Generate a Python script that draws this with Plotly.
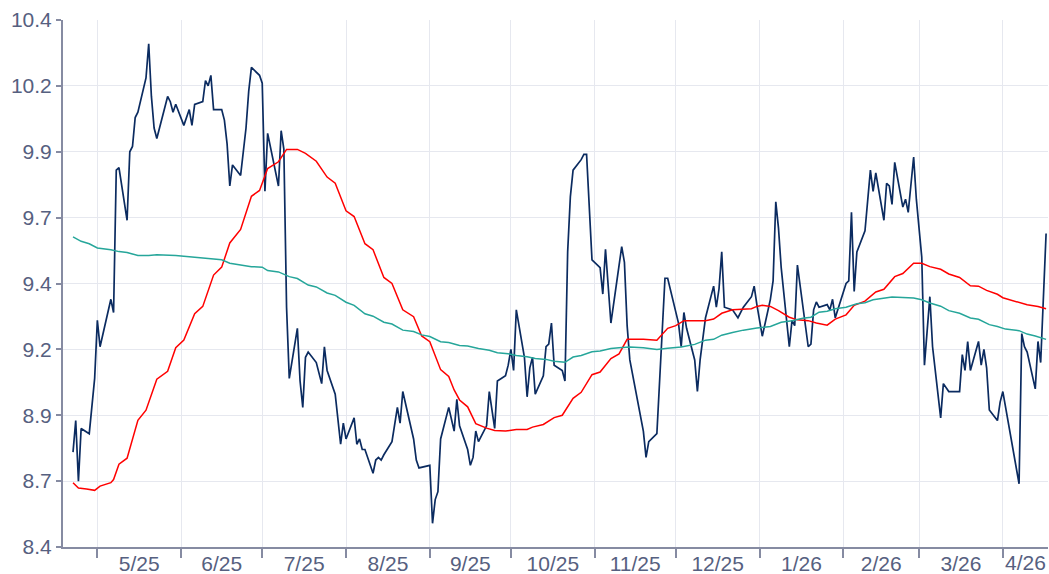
import pandas as pd
import plotly.graph_objects as go

# ---- data ----
price_dates = [
    "2025-04-22", "2025-04-23", "2025-04-24", "2025-04-25", "2025-04-28", "2025-04-29", "2025-04-30",
    "2025-05-01", "2025-05-02", "2025-05-06", "2025-05-07", "2025-05-08", "2025-05-09", "2025-05-12",
    "2025-05-13", "2025-05-14", "2025-05-15", "2025-05-16", "2025-05-19", "2025-05-20", "2025-05-21",
    "2025-05-22", "2025-05-23", "2025-05-27", "2025-05-28", "2025-05-29", "2025-05-30", "2025-06-02",
    "2025-06-03", "2025-06-04", "2025-06-05", "2025-06-06", "2025-06-09", "2025-06-10", "2025-06-11",
    "2025-06-12", "2025-06-13", "2025-06-16", "2025-06-17", "2025-06-18", "2025-06-19", "2025-06-20",
    "2025-06-23", "2025-06-25", "2025-06-26", "2025-06-27", "2025-06-30", "2025-07-01", "2025-07-02",
    "2025-07-03", "2025-07-07", "2025-07-08", "2025-07-09", "2025-07-10", "2025-07-11", "2025-07-14",
    "2025-07-15", "2025-07-16", "2025-07-17", "2025-07-18", "2025-07-21", "2025-07-23", "2025-07-24",
    "2025-07-25", "2025-07-28", "2025-07-30", "2025-07-31", "2025-08-01", "2025-08-04", "2025-08-05",
    "2025-08-06", "2025-08-07", "2025-08-08", "2025-08-11", "2025-08-12", "2025-08-13", "2025-08-14",
    "2025-08-15", "2025-08-18", "2025-08-20", "2025-08-21", "2025-08-22", "2025-08-26", "2025-08-27",
    "2025-08-28", "2025-09-01", "2025-09-02", "2025-09-03", "2025-09-04", "2025-09-05", "2025-09-08",
    "2025-09-10", "2025-09-11", "2025-09-12", "2025-09-15", "2025-09-16", "2025-09-17", "2025-09-18",
    "2025-09-19", "2025-09-22", "2025-09-23", "2025-09-25", "2025-09-26", "2025-09-29", "2025-09-30",
    "2025-10-01", "2025-10-02", "2025-10-03", "2025-10-06", "2025-10-07", "2025-10-08", "2025-10-09",
    "2025-10-10", "2025-10-13", "2025-10-14", "2025-10-15", "2025-10-16", "2025-10-17", "2025-10-20",
    "2025-10-21", "2025-10-22", "2025-10-23", "2025-10-24", "2025-10-27", "2025-10-28", "2025-10-29",
    "2025-10-31", "2025-11-03", "2025-11-04", "2025-11-05", "2025-11-07", "2025-11-10", "2025-11-11",
    "2025-11-12", "2025-11-13", "2025-11-14", "2025-11-19", "2025-11-20", "2025-11-21", "2025-11-24",
    "2025-11-27", "2025-11-28", "2025-12-01", "2025-12-02", "2025-12-03", "2025-12-04", "2025-12-05",
    "2025-12-08", "2025-12-09", "2025-12-10", "2025-12-12", "2025-12-15", "2025-12-16", "2025-12-17",
    "2025-12-18", "2025-12-19", "2025-12-22", "2025-12-24", "2025-12-26", "2025-12-29", "2025-12-30",
    "2025-12-31", "2026-01-02", "2026-01-05", "2026-01-06", "2026-01-07", "2026-01-08", "2026-01-09",
    "2026-01-12", "2026-01-13", "2026-01-14", "2026-01-15", "2026-01-19", "2026-01-20", "2026-01-21",
    "2026-01-22", "2026-01-23", "2026-01-26", "2026-01-27", "2026-01-28", "2026-01-29", "2026-02-02",
    "2026-02-03", "2026-02-04", "2026-02-05", "2026-02-06", "2026-02-09", "2026-02-10", "2026-02-11",
    "2026-02-12", "2026-02-13", "2026-02-16", "2026-02-17", "2026-02-18", "2026-02-19", "2026-02-20",
    "2026-02-23", "2026-02-24", "2026-02-25", "2026-02-27", "2026-02-28", "2026-03-02", "2026-03-03",
    "2026-03-05", "2026-03-06", "2026-03-09", "2026-03-10", "2026-03-12", "2026-03-16", "2026-03-17",
    "2026-03-18", "2026-03-19", "2026-03-20", "2026-03-23", "2026-03-24", "2026-03-25", "2026-03-26",
    "2026-03-27", "2026-03-30", "2026-03-31", "2026-04-01", "2026-04-07", "2026-04-08", "2026-04-09",
    "2026-04-10", "2026-04-13", "2026-04-14", "2026-04-15", "2026-04-17",
]
price_values = [
    8.76, 8.88, 8.65, 8.85, 8.83, 8.95, 9.04,
    9.26, 9.16, 9.34, 9.29, 9.83, 9.84, 9.64,
    9.90, 9.92, 10.03, 10.05, 10.18, 10.31, 10.11,
    9.99, 9.95, 10.11, 10.09, 10.05, 10.08, 10.00,
    10.03, 10.06, 10.00, 10.08, 10.09, 10.17, 10.15,
    10.19, 10.06, 10.06, 10.02, 9.93, 9.77, 9.85,
    9.81, 9.99, 10.13, 10.22, 10.19, 10.16, 9.75,
    9.97, 9.77, 9.98, 9.91, 9.31, 9.04, 9.23,
    9.03, 8.93, 9.12, 9.14, 9.10, 9.02, 9.16,
    9.07, 8.98, 8.79, 8.87, 8.81, 8.89, 8.79,
    8.81, 8.77, 8.77, 8.68, 8.73, 8.74, 8.73,
    8.75, 8.80, 8.93, 8.87, 8.99, 8.81, 8.73,
    8.70, 8.71, 8.49, 8.58, 8.61, 8.81, 8.93,
    8.84, 8.96, 8.86, 8.77, 8.71, 8.74, 8.84,
    8.80, 8.86, 8.99, 8.85, 9.03, 9.05, 9.09,
    9.15, 9.07, 9.30, 9.12, 8.97, 9.08, 9.12,
    8.98, 9.05, 9.16, 9.17, 9.25, 9.09, 9.07,
    9.03, 9.52, 9.73, 9.83, 9.87, 9.89, 9.89,
    9.49, 9.46, 9.36, 9.53, 9.25, 9.48, 9.54,
    9.48, 9.24, 9.11, 8.84, 8.74, 8.80, 8.83,
    9.42, 9.42, 9.30, 9.25, 9.16, 9.29, 9.23,
    9.11, 8.99, 9.11, 9.27, 9.39, 9.31, 9.38,
    9.52, 9.31, 9.30, 9.27, 9.31, 9.35, 9.39,
    9.32, 9.20, 9.34, 9.41, 9.71, 9.61, 9.46,
    9.16, 9.26, 9.24, 9.47, 9.16, 9.17, 9.30,
    9.33, 9.31, 9.32, 9.30, 9.34, 9.27, 9.40,
    9.41, 9.67, 9.37, 9.52, 9.60, 9.73, 9.83,
    9.75, 9.82, 9.64, 9.78, 9.77, 9.70, 9.86,
    9.69, 9.72, 9.67, 9.88, 9.72, 9.50, 9.09,
    9.35, 9.16, 8.89, 9.02, 8.99, 8.99, 9.13,
    9.07, 9.18, 9.07, 9.18, 9.09, 9.15, 9.08,
    8.92, 8.88, 8.95, 8.99, 8.64, 9.21, 9.16,
    9.14, 9.00, 9.18, 9.10, 9.59,
]

short_avg_dates = [
    "2025-04-22", "2025-04-24", "2025-04-27", "2025-04-30", "2025-05-02", "2025-05-06", "2025-05-07",
    "2025-05-09", "2025-05-12", "2025-05-16", "2025-05-19", "2025-05-23", "2025-05-27", "2025-05-30",
    "2025-06-02", "2025-06-06", "2025-06-09", "2025-06-13", "2025-06-16", "2025-06-19", "2025-06-23",
    "2025-06-27", "2025-06-30", "2025-07-03", "2025-07-07", "2025-07-10", "2025-07-14", "2025-07-17",
    "2025-07-21", "2025-07-25", "2025-07-28", "2025-08-01", "2025-08-04", "2025-08-08", "2025-08-11",
    "2025-08-15", "2025-08-18", "2025-08-22", "2025-08-26", "2025-08-29", "2025-09-01", "2025-09-05",
    "2025-09-08", "2025-09-10", "2025-09-12", "2025-09-15", "2025-09-18", "2025-09-22", "2025-09-25",
    "2025-09-29", "2025-10-03", "2025-10-07", "2025-10-09", "2025-10-13", "2025-10-17", "2025-10-20",
    "2025-10-24", "2025-10-27", "2025-10-31", "2025-11-03", "2025-11-07", "2025-11-10", "2025-11-13",
    "2025-11-19", "2025-11-24", "2025-11-28", "2025-12-01", "2025-12-04", "2025-12-12", "2025-12-15",
    "2025-12-18", "2025-12-22", "2025-12-29", "2025-12-31", "2026-01-02", "2026-01-05", "2026-01-08",
    "2026-01-12", "2026-01-15", "2026-01-19", "2026-01-22", "2026-01-26", "2026-01-29", "2026-02-02",
    "2026-02-05", "2026-02-09", "2026-02-13", "2026-02-16", "2026-02-20", "2026-02-23", "2026-02-27",
    "2026-03-02", "2026-03-05", "2026-03-09", "2026-03-12", "2026-03-16", "2026-03-20", "2026-03-23",
    "2026-03-26", "2026-03-30", "2026-04-01", "2026-04-07", "2026-04-10", "2026-04-14", "2026-04-17",
]
short_avg_values = [
    8.644, 8.624, 8.620, 8.615, 8.631, 8.644, 8.656,
    8.714, 8.737, 8.881, 8.919, 9.037, 9.067, 9.156,
    9.185, 9.285, 9.313, 9.432, 9.462, 9.554, 9.605,
    9.731, 9.753, 9.836, 9.862, 9.909, 9.909, 9.894,
    9.864, 9.804, 9.781, 9.676, 9.654, 9.551, 9.528,
    9.423, 9.400, 9.300, 9.274, 9.201, 9.179, 9.073,
    9.047, 8.996, 8.958, 8.932, 8.868, 8.851, 8.842,
    8.840, 8.846, 8.846, 8.855, 8.865, 8.891, 8.900,
    8.964, 8.987, 9.054, 9.064, 9.115, 9.133, 9.188,
    9.188, 9.185, 9.230, 9.240, 9.259, 9.259, 9.265,
    9.287, 9.300, 9.304, 9.313, 9.317, 9.313, 9.297,
    9.272, 9.262, 9.259, 9.250, 9.242, 9.265, 9.281,
    9.317, 9.333, 9.368, 9.378, 9.426, 9.438, 9.477,
    9.477, 9.464, 9.454, 9.436, 9.423, 9.391, 9.390,
    9.374, 9.359, 9.346, 9.329, 9.319, 9.313, 9.304,
]

long_avg_dates = [
    "2025-04-22", "2025-04-25", "2025-04-28", "2025-05-01", "2025-05-06", "2025-05-09", "2025-05-12",
    "2025-05-16", "2025-05-20", "2025-05-23", "2025-05-30", "2025-06-06", "2025-06-12", "2025-06-16",
    "2025-06-19", "2025-06-27", "2025-07-01", "2025-07-03", "2025-07-07", "2025-07-11", "2025-07-14",
    "2025-07-18", "2025-07-21", "2025-07-25", "2025-07-28", "2025-08-01", "2025-08-04", "2025-08-08",
    "2025-08-11", "2025-08-15", "2025-08-18", "2025-08-22", "2025-08-26", "2025-08-29", "2025-09-01",
    "2025-09-05", "2025-09-08", "2025-09-12", "2025-09-15", "2025-09-19", "2025-09-23", "2025-09-26",
    "2025-09-30", "2025-10-03", "2025-10-07", "2025-10-10", "2025-10-14", "2025-10-17", "2025-10-21",
    "2025-10-24", "2025-10-27", "2025-10-31", "2025-11-03", "2025-11-07", "2025-11-10", "2025-11-14",
    "2025-11-19", "2025-11-24", "2025-11-28", "2025-12-03", "2025-12-08", "2025-12-12", "2025-12-15",
    "2025-12-18", "2025-12-22", "2025-12-26", "2025-12-31", "2026-01-05", "2026-01-09", "2026-01-13",
    "2026-01-17", "2026-01-20", "2026-01-23", "2026-01-26", "2026-01-29", "2026-02-02", "2026-02-06",
    "2026-02-09", "2026-02-12", "2026-02-16", "2026-02-19", "2026-02-23", "2026-02-27", "2026-03-02",
    "2026-03-05", "2026-03-09", "2026-03-12", "2026-03-16", "2026-03-20", "2026-03-23", "2026-03-27",
    "2026-03-30", "2026-04-02", "2026-04-07", "2026-04-10", "2026-04-13", "2026-04-17",
]
long_avg_values = [
    9.577, 9.560, 9.551, 9.535, 9.528, 9.521, 9.518,
    9.506, 9.506, 9.509, 9.506, 9.500, 9.494, 9.490,
    9.477, 9.464, 9.462, 9.449, 9.444, 9.426, 9.419,
    9.394, 9.387, 9.364, 9.355, 9.329, 9.317, 9.285,
    9.276, 9.253, 9.246, 9.223, 9.218, 9.205, 9.199,
    9.179, 9.176, 9.165, 9.163, 9.153, 9.147, 9.137,
    9.133, 9.127, 9.122, 9.115, 9.112, 9.105, 9.101,
    9.121, 9.127, 9.141, 9.144, 9.153, 9.156, 9.159,
    9.156, 9.150, 9.154, 9.159, 9.169, 9.185, 9.188,
    9.204, 9.214, 9.223, 9.231, 9.237, 9.253, 9.259,
    9.268, 9.272, 9.291, 9.295, 9.304, 9.310, 9.323,
    9.327, 9.338, 9.345, 9.349, 9.347, 9.345, 9.338,
    9.326, 9.314, 9.297, 9.287, 9.269, 9.264, 9.244,
    9.237, 9.227, 9.221, 9.208, 9.201, 9.188,
]

x_range = ["2025-04-18 07:00", "2026-04-17 17:00"]
y_range = [8.4, 10.4]

# last (partial) month label, centred in the visible part of that month
last_month_start = "2026-04-01"
last_month_label = "4/26"

# ---- styles ----
AXIS_COLOR = "#868ba2"
GRID_COLOR = "#e6e8ef"
TEXT_COLOR = "#566080"

fig = go.Figure()
fig.add_trace(go.Scatter(x=price_dates, y=price_values, mode="lines",
                         line=dict(color="#0b2b60", width=1.7), name="Price"))
fig.add_trace(go.Scatter(x=short_avg_dates, y=short_avg_values, mode="lines",
                         line=dict(color="#ff0000", width=1.5), name="Short MA"))
fig.add_trace(go.Scatter(x=long_avg_dates, y=long_avg_values, mode="lines",
                         line=dict(color="#26a69a", width=1.5), name="Long MA",
                         xaxis="x2"))

fig.update_layout(
    width=1049, height=574,
    margin=dict(l=63, r=1, t=20, b=27, autoexpand=False),
    paper_bgcolor="white", plot_bgcolor="white",
    showlegend=False,
    font=dict(family="Liberation Sans, Arial, sans-serif", size=21, color=TEXT_COLOR),
)
fig.update_xaxes(
    type="date", range=x_range, automargin=False,
    dtick="M1", tick0="2025-05-01", tickformat="%-m/%y", ticklabelmode="period",
    ticklabelstandoff=-12,
    showgrid=True, gridcolor=GRID_COLOR, gridwidth=1,
    showline=True, linecolor=AXIS_COLOR, linewidth=2,
    ticks="outside", ticklen=9, tickwidth=2, tickcolor=AXIS_COLOR,
    zeroline=False,
)

mid_last = pd.Timestamp(last_month_start) + (pd.Timestamp(x_range[1]) - pd.Timestamp(last_month_start)) / 2
fig.update_layout(
    xaxis2=dict(
        type="date", range=x_range, overlaying="x", side="bottom", automargin=False,
        tickvals=[mid_last], ticktext=[last_month_label],
        ticklabelstandoff=-12,
        showgrid=False, showline=False, zeroline=False,
        ticks="outside", ticklen=9, tickwidth=2, tickcolor="rgba(0,0,0,0)",
    )
)
fig.update_yaxes(
    range=y_range, tick0=8.4, dtick=0.25, tickformat=".1f", automargin=False,
    showgrid=True, gridcolor=GRID_COLOR, gridwidth=1,
    showline=True, linecolor=AXIS_COLOR, linewidth=2,
    ticks="outside", ticklen=5, tickwidth=2, tickcolor=AXIS_COLOR,
    zeroline=False,
)

fig.write_html(
    "out.html",
    config={"displayModeBar": False},
    post_script="document.body.style.margin='0';document.body.style.overflow='hidden';",
)
